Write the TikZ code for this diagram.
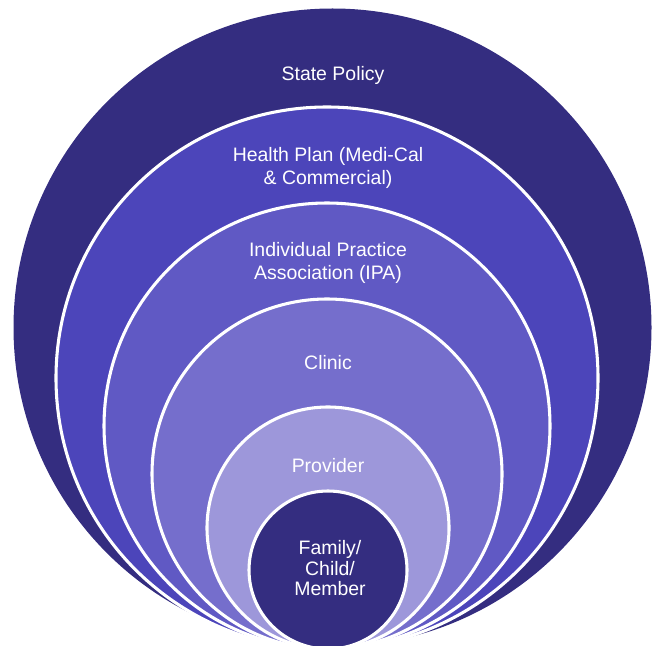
\documentclass[tikz,border=0pt]{standalone}
\usepackage{fontspec}
\setmainfont{Liberation Sans}
\usetikzlibrary{positioning}
\definecolor{mdark}{RGB}{52,45,128}
\definecolor{mhealth}{RGB}{76,69,186}
\definecolor{mipa}{RGB}{96,89,196}
\definecolor{mclinic}{RGB}{117,110,204}
\definecolor{mprov}{RGB}{157,151,218}

\begin{document}
\begin{tikzpicture}[x=0.75pt, y=-0.75pt,
    ring/.style={draw=white, line width=2.3pt},
    ringtext/.style={text=white, align=center, inner sep=0pt,
      font=\fontsize{14.6}{17.3}\selectfont}]
    \useasboundingbox (0, 0) rectangle (652, 645);
    \clip (0, 0) rectangle (652, 645);

    \fill [mdark] (332.5, 327.5) circle [radius=319];
    \filldraw [ring, fill=mhealth] (327, 378) circle [radius=271];
    \filldraw [ring, fill=mipa] (327, 426) circle [radius=223];
    \filldraw [ring, fill=mclinic] (327, 474) circle [radius=175];
    \filldraw [ring, fill=mprov] (328, 528) circle [radius=121];
    \filldraw [ring, fill=mdark] (328, 570) circle [radius=79];

    \node [ringtext] (state) at (333, 75) {State Policy};
    \node [ringtext] (health) at (328, 167.5) {Health Plan (Medi-Cal\\\& Commercial)};
    \node [ringtext] (ipa) at (328, 263) {Individual Practice\\Association (IPA)};
    \node [ringtext] (clinic) at (328, 363) {Clinic};
    \node [ringtext] (provider) at (328, 466) {Provider};
    \node [ringtext, font=\fontsize{14.6}{15.4}\selectfont] (member) at (330, 568.5) {Family/\\Child/\\Member};

\end{tikzpicture}
\end{document}
